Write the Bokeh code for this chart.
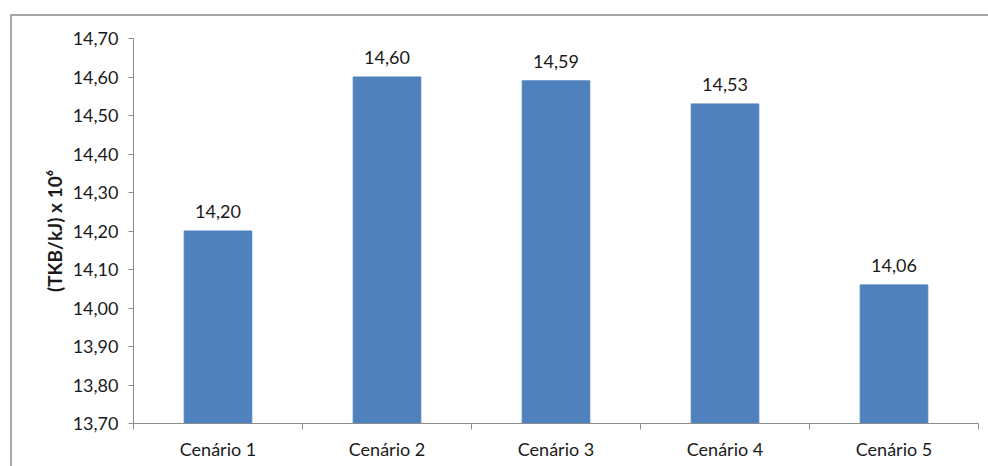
from bokeh.plotting import figure
from bokeh.models import Range1d, FixedTicker, ColumnDataSource, InlineStyleSheet
from bokeh.core.properties import value
from bokeh.embed import file_html
from bokeh.resources import INLINE

categories = ["Cenário 1", "Cenário 2", "Cenário 3", "Cenário 4", "Cenário 5"]
values = [14.20, 14.60, 14.59, 14.53, 14.06]
y_ticks = [13.7, 13.8, 13.9, 14.0, 14.1, 14.2, 14.3, 14.4, 14.5, 14.6, 14.7]
y_tick_labels = ["13,70", "13,80", "13,90", "14,00", "14,10", "14,20",
                 "14,30", "14,40", "14,50", "14,60", "14,70"]
y_title = "(TKB/kJ) x 10⁶"

FONT = "Lato"
BAR = "#4F81BD"
AXIS = "#8C8C8C"
TXT = "#1a1a1a"

x_pos = [i + 0.5 for i in range(len(categories))]
src = ColumnDataSource(dict(
    x=x_pos, top=values,
    label=[f"{v:.2f}".replace(".", ",") for v in values],
))

border_css = InlineStyleSheet(css="""
:host { position: relative; }
:host::after {
  content: ''; position: absolute; left: 10px; top: 14px; right: 0; bottom: 0;
  border-left: 2px solid #A6A6A6; border-top: 2px solid #A6A6A6;
  pointer-events: none;
}
""")

p = figure(width=988, height=466, output_backend="svg", toolbar_location=None,
           x_range=Range1d(0, len(categories)), y_range=Range1d(y_ticks[0], y_ticks[-1]),
           min_border_left=133, min_border_right=10, min_border_top=38,
           min_border_bottom=43, stylesheets=[border_css])
p.outline_line_color = None
p.xgrid.visible = False
p.ygrid.visible = False
p.background_fill_color = "white"
p.border_fill_color = "white"

p.vbar(x="x", top="top", bottom=y_ticks[0], width=0.4, source=src,
       fill_color=BAR, line_color=BAR)
p.text(x="x", y="top", text="label", source=src, text_align="center",
       text_baseline="bottom", y_offset=-13, text_font=value(FONT),
       text_font_size="18px", text_color=TXT)

# y axis
ya = p.yaxis[0]
ya.ticker = FixedTicker(ticks=y_ticks, minor_ticks=[])
ya.major_label_overrides = {t: l for t, l in zip(y_ticks, y_tick_labels)}
ya.axis_label = y_title
ya.axis_label_text_font = FONT
ya.axis_label_text_font_style = "bold"
ya.axis_label_text_font_size = "19px"
ya.axis_label_text_color = TXT
ya.axis_label_standoff = 4
ya.major_label_text_font = FONT
ya.major_label_text_font_size = "18px"
ya.major_label_text_color = TXT
ya.major_label_standoff = 10
ya.major_tick_in = 0
ya.major_tick_out = 5
ya.minor_tick_line_color = None
ya.axis_line_color = AXIS
ya.major_tick_line_color = AXIS

# x axis
xa = p.xaxis[0]
xa.ticker = FixedTicker(ticks=x_pos, minor_ticks=list(range(len(categories) + 1)))
xa.major_label_overrides = {x: c for x, c in zip(x_pos, categories)}
xa.major_label_text_font = FONT
xa.major_label_text_font_size = "18px"
xa.major_label_text_color = TXT
xa.major_label_standoff = 8
xa.major_tick_line_color = None
xa.minor_tick_in = 0
xa.minor_tick_out = 6
xa.minor_tick_line_color = AXIS
xa.axis_line_color = AXIS

open("out.html", "w").write(file_html(p, INLINE))
